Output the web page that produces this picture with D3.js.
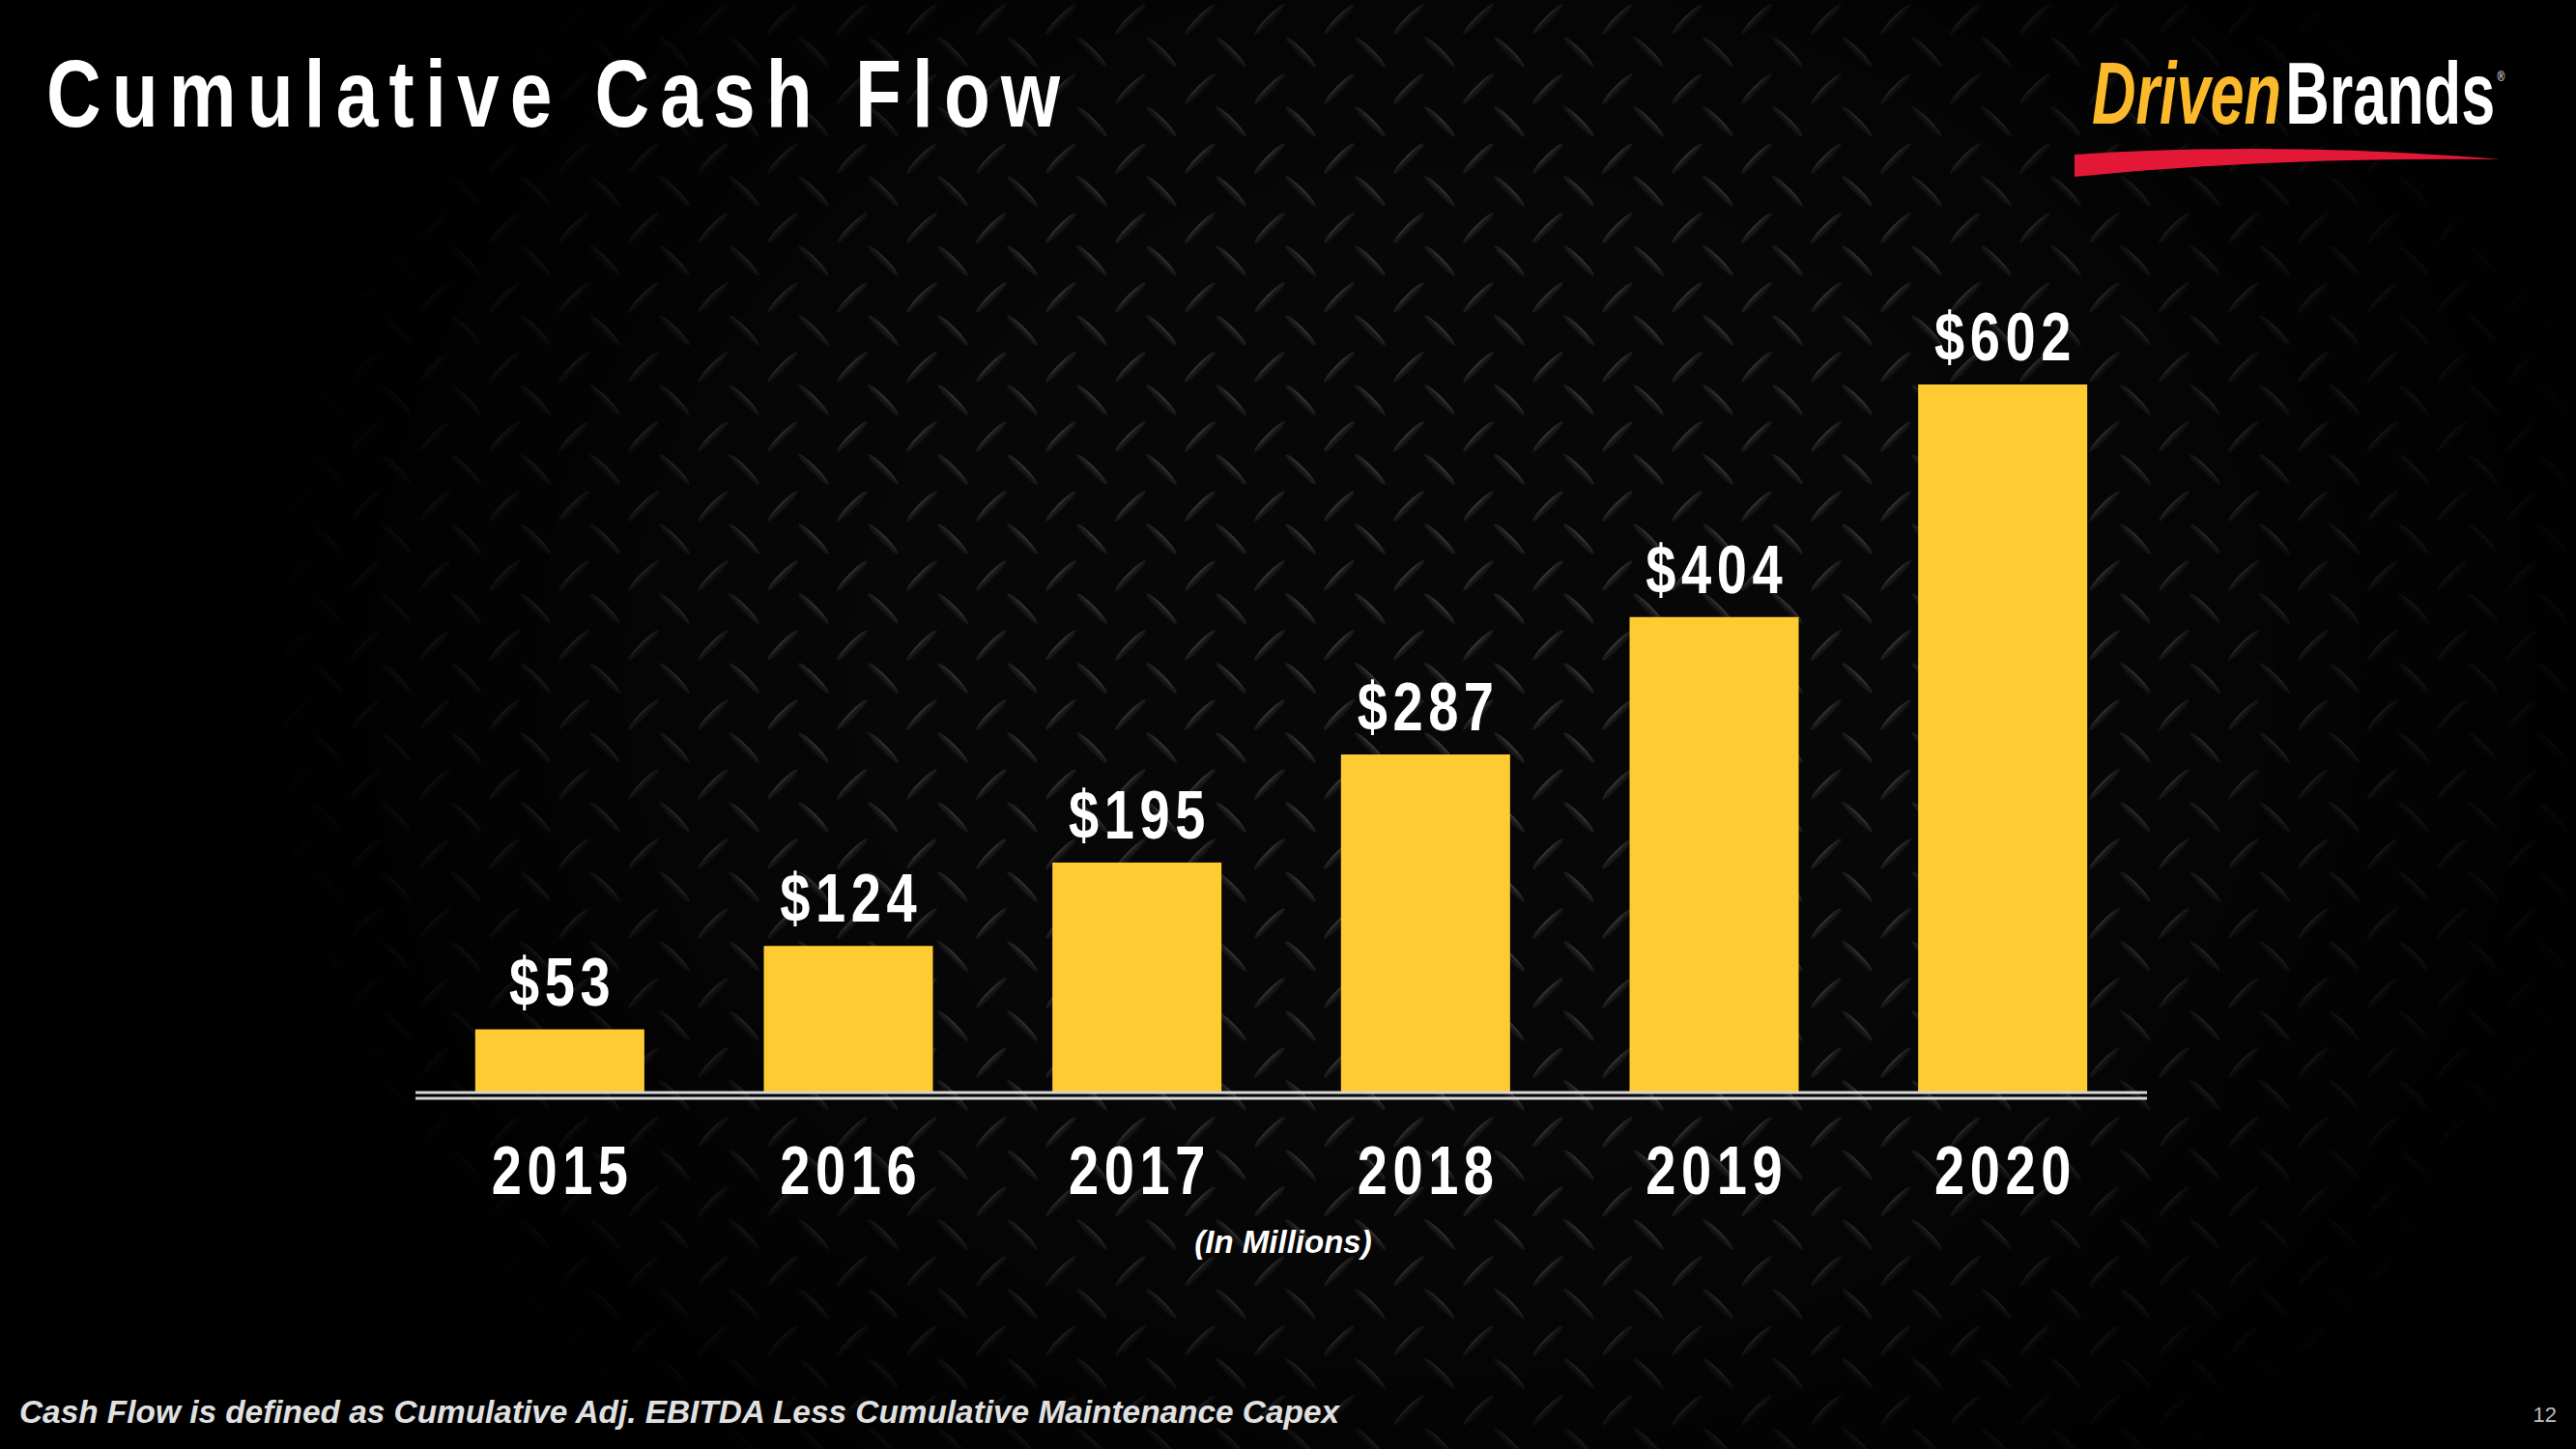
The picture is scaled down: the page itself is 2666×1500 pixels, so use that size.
<!DOCTYPE html>
<html>
<head>
<meta charset="utf-8">
<script src="https://cdn.jsdelivr.net/npm/d3@7/dist/d3.min.js"></script>
<style>
  html, body { margin: 0; padding: 0; background: #000; }
  svg { display: block; }
</style>
</head>
<body>
<svg id="chart" width="2666" height="1500"></svg>
<script>
const years = ["2015", "2016", "2017", "2018", "2019", "2020"];
const values = [53, 124, 195, 287, 404, 602];
const valueLabels = ["$53", "$124", "$195", "$287", "$404", "$602"];
const titleText = "Cumulative Cash Flow";
const unitText = "(In Millions)";
const footnoteText = "Cash Flow is defined as Cumulative Adj. EBITDA Less Cumulative Maintenance Capex";
const pageNumber = "12";

const W = 2666, H = 1500;
const svg = d3.select("#chart");
const sans = "'Liberation Sans', Arial, sans-serif";
const condense = 0.8;

// ---------- background (diamond plate) ----------
const defs = svg.append("defs");
const lg = defs.append("linearGradient").attr("id", "loz").attr("x1", 0).attr("y1", 0).attr("x2", 0).attr("y2", 1);
lg.append("stop").attr("offset", "0%").attr("stop-color", "#4a4a4a");
lg.append("stop").attr("offset", "35%").attr("stop-color", "#222");
lg.append("stop").attr("offset", "100%").attr("stop-color", "#0f0f0f");

const tile = 72;
const pat = defs.append("pattern").attr("id", "plate")
  .attr("width", tile).attr("height", tile)
  .attr("patternUnits", "userSpaceOnUse");
pat.append("rect").attr("width", tile).attr("height", tile).attr("fill", "#080808");
[[18, 20, -45], [50, 54, 45], [18 + tile, 20, -45], [18, 20 + tile, -45], [50 - tile, 54, 45], [50, 54 - tile, 45]].forEach(([cx, cy, a]) => {
  pat.append("ellipse")
    .attr("cx", 0).attr("cy", 0).attr("rx", 22).attr("ry", 3.5)
    .attr("fill", "url(#loz)")
    .attr("transform", `translate(${cx},${cy}) rotate(${a})`);
});

const rg = defs.append("radialGradient").attr("id", "vig")
  .attr("gradientUnits", "userSpaceOnUse")
  .attr("cx", 1500).attr("cy", 700).attr("r", 1250)
  .attr("gradientTransform", "translate(1500,700) scale(1,0.85) translate(-1500,-700)");
rg.append("stop").attr("offset", "0%").attr("stop-color", "#fff").attr("stop-opacity", 0.95);
rg.append("stop").attr("offset", "55%").attr("stop-color", "#fff").attr("stop-opacity", 0.8);
rg.append("stop").attr("offset", "100%").attr("stop-color", "#fff").attr("stop-opacity", 0.0);
const mask = defs.append("mask").attr("id", "vmask");
mask.append("rect").attr("width", W).attr("height", H).attr("fill", "url(#vig)");

svg.append("rect").attr("width", W).attr("height", H).attr("fill", "#000");
svg.append("rect").attr("width", W).attr("height", H).attr("fill", "url(#plate)").attr("mask", "url(#vmask)");

// ---------- title ----------
svg.append("text")
  .attr("transform", `translate(48,131) scale(${condense},1)`)
  .attr("font-family", sans).attr("font-weight", "bold")
  .attr("font-size", 98).attr("fill", "#fff")
  .attr("textLength", 1049 / condense).attr("lengthAdjust", "spacing")
  .text(titleText);

// ---------- logo ----------
const logoText = svg.append("text")
  .attr("transform", "translate(2165,128) scale(0.7,1)")
  .attr("font-family", sans).attr("font-weight", "bold")
  .attr("font-size", 90);
logoText.append("tspan").attr("font-style", "italic").attr("fill", "#FBB92B").text("Driven");
logoText.append("tspan").attr("dx", 6).attr("fill", "#fff").text("Brands");
logoText.append("tspan").attr("dx", 3).attr("dy", -44).attr("font-size", 15).attr("font-weight", "normal").attr("fill", "#fff").text("®");
svg.append("path")
  .attr("d", "M2147,160 Q2360,146 2588,165 Q2360,162 2147,183 Z")
  .attr("fill", "#E31837");

// ---------- chart ----------
const x = d3.scaleBand().domain(years).range([430, 2222]).paddingInner(0.414).paddingOuter(0.207);
const y = d3.scaleLinear().domain([0, 602]).range([1130, 398]);

svg.append("g").selectAll("rect").data(values).join("rect")
  .attr("x", (d, i) => x(years[i]))
  .attr("y", d => y(d))
  .attr("width", x.bandwidth())
  .attr("height", d => y(0) - y(d))
  .attr("fill", "#FFCB33");

const ls = 7;
svg.append("g").selectAll("text").data(values).join("text")
  .attr("transform", (d, i) => `translate(${x(years[i]) + x.bandwidth() / 2},${y(d) - 25}) scale(${condense},1)`)
  .attr("x", ls / 2)
  .attr("text-anchor", "middle")
  .attr("font-family", sans).attr("font-weight", "bold")
  .attr("font-size", 70).attr("letter-spacing", ls).attr("fill", "#fff")
  .text((d, i) => valueLabels[i]);

// axis: double rule
const [r0, r1] = x.range();
svg.append("line").attr("x1", r0).attr("x2", r1).attr("y1", y(0) + 1).attr("y2", y(0) + 1)
  .attr("stroke", "#d6d6d6").attr("stroke-width", 3);
svg.append("line").attr("x1", r0).attr("x2", r1).attr("y1", y(0) + 7).attr("y2", y(0) + 7)
  .attr("stroke", "#d6d6d6").attr("stroke-width", 3);

const xAxis = svg.append("g").attr("transform", `translate(0,${y(0)})`)
  .call(d3.axisBottom(x).tickSize(0));
xAxis.select(".domain").remove();
xAxis.selectAll("text")
  .attr("y", 0).attr("dy", 0).attr("x", ls / 2)
  .attr("transform", `translate(0,106) scale(${condense},1)`)
  .attr("font-family", sans).attr("font-weight", "bold")
  .attr("font-size", 70).attr("letter-spacing", ls).attr("fill", "#fff");

svg.append("text")
  .attr("x", 1328).attr("y", 1297).attr("text-anchor", "middle")
  .attr("font-family", sans).attr("font-weight", "bold").attr("font-style", "italic")
  .attr("font-size", 33).attr("fill", "#fff")
  .text(unitText);

// ---------- footer ----------
svg.append("text")
  .attr("x", 20).attr("y", 1473)
  .attr("font-family", sans).attr("font-weight", "bold").attr("font-style", "italic")
  .attr("font-size", 34).attr("fill", "#e0e0e0")
  .attr("textLength", 1366).attr("lengthAdjust", "spacingAndGlyphs")
  .text(footnoteText);

svg.append("text")
  .attr("x", 2646).attr("y", 1472).attr("text-anchor", "end")
  .attr("font-family", sans).attr("font-size", 22).attr("fill", "#bdbdbd")
  .text(pageNumber);
</script>
</body>
</html>
